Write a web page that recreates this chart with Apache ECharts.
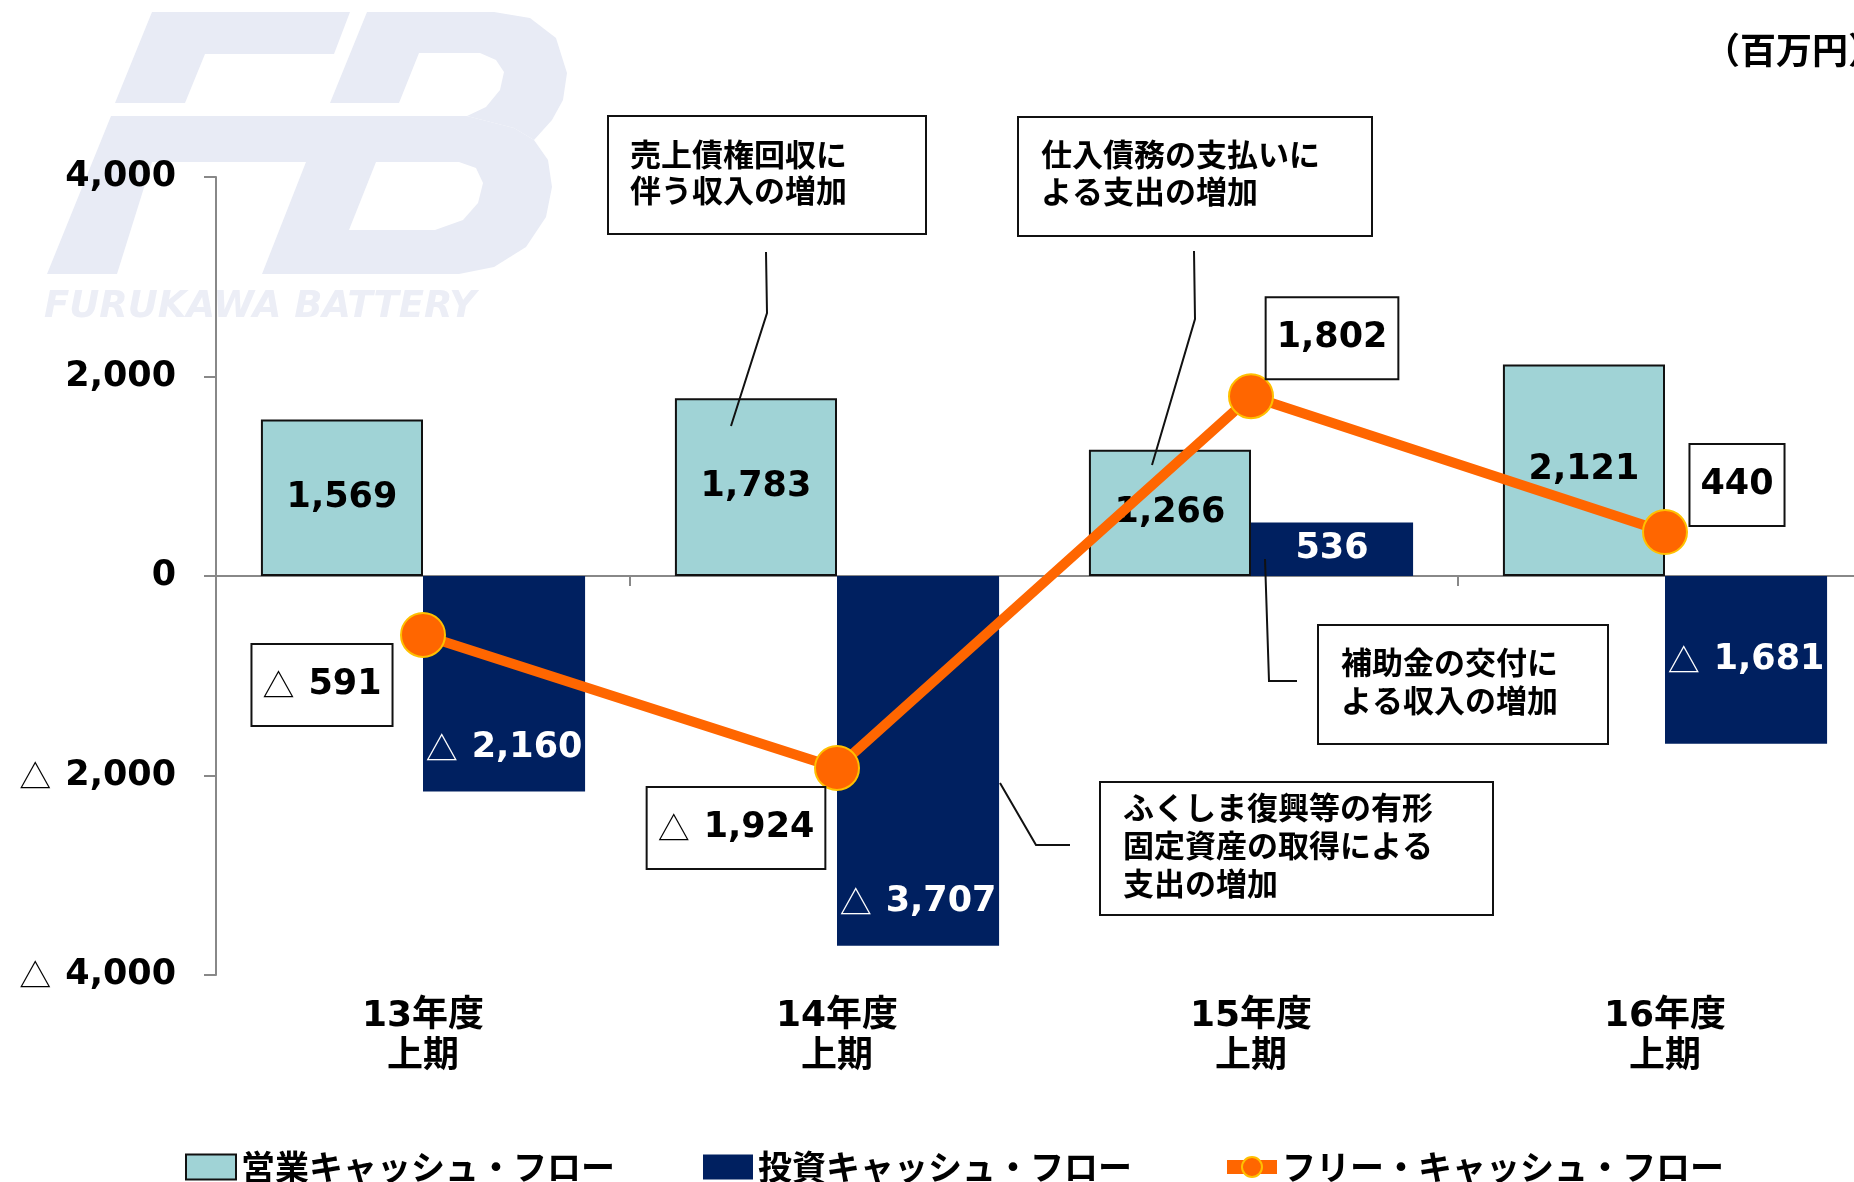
<!DOCTYPE html>
<html>
<head>
<meta charset="utf-8">
<script src="https://cdn.jsdelivr.net/npm/echarts@6/dist/echarts.min.js"></script>
<style>
  html, body { margin: 0; padding: 0; background: #fff; }
  #chart { width: 1854px; height: 1182px; }
</style>
</head>
<body>
<div id="chart"></div>
<script>
// 上期キャッシュ・フロー推移（百万円）
const periods = ['13年度\n上期', '14年度\n上期', '15年度\n上期', '16年度\n上期']
const operatingCF = [1569, 1783, 1266, 2121]
const investingCF = [-2160, -3707, 536, -1681]
const freeCF = [-591, -1924, 1802, 440]
const seriesNames = ['営業キャッシュ・フロー', '投資キャッシュ・フロー', 'フリー・キャッシュ・フロー']
const yMin = -4000
const yMax = 4000
const yStep = 2000

// ラベル配置（レイアウト用）
const investLabelPos = ['insideBottom', 'insideBottom', 'inside', 'inside']
const freeLabelOffset = [[-101, 50], [-101, 60], [81, -58], [72, -47]]

const NUM_FONT = '"DejaVu Sans", "Noto Sans CJK JP", sans-serif'
const JP_FONT = '"Noto Sans CJK JP", sans-serif'

// 3桁区切り
function comma(n) {
  return String(n).replace(/\B(?=(\d{3})+(?!\d))/g, ',')
}

// マイナスは△表記
function fmtValue(v) {
  if (v < 0) return '{t|△}{n|' + comma(-v) + '}'
  return '{n|' + comma(v) + '}'
}

function richFor(color) {
  return {
    t: { fontFamily: JP_FONT, fontWeight: 'normal', fontSize: 32, color: color, lineHeight: 40, padding: [0, 14, 0, 0] },
    n: { fontFamily: NUM_FONT, fontWeight: 'bold', fontSize: 35, color: color, lineHeight: 40 }
  }
}

const chart = echarts.init(document.getElementById('chart'), null, { renderer: 'canvas' })

const option = {
  animation: false,
  backgroundColor: '#ffffff',
  grid: { left: 216, top: 177, width: 1656, height: 798, outerBoundsMode: 'none', containLabel: false },
  legend: {
    left: 180,
    top: 1145,
    itemWidth: 50,
    itemHeight: 25,
    itemGap: 88,
    data: [
      { name: seriesNames[0], icon: 'rect' },
      { name: seriesNames[1], icon: 'rect' },
      { name: seriesNames[2], lineStyle: { width: 14 } }
    ],
    textStyle: { fontFamily: JP_FONT, fontWeight: 'bold', fontSize: 34, color: '#000' }
  },
  xAxis: [
    {
      // ゼロ位置の軸線と目盛
      type: 'category',
      data: periods,
      axisLine: { onZero: true, lineStyle: { color: '#888', width: 2 } },
      axisTick: { show: true, length: 10, lineStyle: { color: '#888', width: 2 } },
      axisLabel: { show: false }
    },
    {
      // 下端の年度ラベル
      type: 'category',
      data: periods,
      position: 'bottom',
      axisLine: { show: false, onZero: false },
      axisTick: { show: false },
      axisLabel: {
        margin: 21,
        color: '#000',
        fontFamily: NUM_FONT,
        fontWeight: 'bold',
        fontSize: 36,
        lineHeight: 41
      }
    }
  ],
  yAxis: {
    type: 'value',
    min: yMin,
    max: yMax,
    interval: yStep,
    splitLine: { show: false },
    axisLine: { show: true, lineStyle: { color: '#888', width: 2 } },
    axisTick: { show: true, length: 12, lineStyle: { color: '#888', width: 2 } },
    axisLabel: {
      margin: 40,
      formatter: function (v) { return fmtValue(v) },
      rich: richFor('#000')
    }
  },
  series: [
    {
      name: seriesNames[0],
      type: 'bar',
      data: operatingCF,
      barGap: '0%',
      barCategoryGap: '21.7%',
      itemStyle: { color: '#a0d3d6', borderColor: '#111', borderWidth: 2 },
      label: {
        show: true,
        position: 'inside',
        formatter: function (p) { return fmtValue(p.value) },
        rich: richFor('#000')
      }
    },
    {
      name: seriesNames[1],
      type: 'bar',
      data: investingCF.map(function (v, i) {
        return { value: v, label: { position: investLabelPos[i], distance: 24 } }
      }),
      itemStyle: { color: '#002060' },
      label: {
        show: true,
        position: 'inside',
        formatter: function (p) { return fmtValue(p.value) },
        rich: richFor('#fff')
      }
    },
    {
      name: seriesNames[2],
      type: 'line',
      data: freeCF.map(function (v, i) {
        return { value: v, label: { offset: freeLabelOffset[i] } }
      }),
      z: 5,
      symbol: 'circle',
      symbolSize: 44,
      lineStyle: { color: '#ff6600', width: 10 },
      itemStyle: { color: '#ff6600', borderColor: '#ffc000', borderWidth: 2 },
      label: {
        show: true,
        position: 'inside',
        backgroundColor: '#fff',
        borderColor: '#111',
        borderWidth: 2,
        padding: [20, 10],
        formatter: function (p) { return fmtValue(p.value) },
        rich: richFor('#000')
      }
    }
  ],
  graphic: [
    // 透かしロゴ
    {
      type: 'polygon', z: -2, silent: true,
      shape: { points: [[152, 12], [350, 12], [334, 54], [205, 54], [185, 103], [115, 103]] },
      style: { fill: '#e8ebf5' }
    },
    {
      type: 'polygon', z: -2, silent: true,
      shape: { points: [[367, 12], [494, 12], [530, 18], [556, 38], [567, 73], [563, 100], [552, 120], [534, 140],
        [514, 128], [467, 116], [486, 107], [500, 90], [504, 72], [496, 60], [480, 53], [419, 53], [399, 103], [330, 103]] },
      style: { fill: '#e8ebf5' }
    },
    {
      type: 'polygon', z: -2, silent: true,
      shape: { points: [[111, 116], [467, 116], [514, 128], [534, 140], [548, 160], [552, 187], [546, 217], [526, 247],
        [494, 267], [459, 274], [262, 274], [306, 162], [152, 162], [117, 274], [47, 274]] },
      style: { fill: '#e8ebf5' }
    },
    {
      type: 'polygon', z: -1, silent: true,
      shape: { points: [[376, 162], [459, 162], [476, 168], [483, 183], [478, 203], [463, 220], [435, 230], [349, 230]] },
      style: { fill: '#fff' }
    },
    {
      type: 'text', z: -2, silent: true, left: 44, top: 289,
      style: { text: 'FURUKAWA BATTERY', font: 'italic bold 37px "DejaVu Sans"', fill: '#eceef6' }
    },
    // 単位
    {
      type: 'text', x: 1704, y: 50,
      style: { text: '（百万円）', font: 'bold 36px "Noto Sans CJK JP"', fill: '#000', verticalAlign: 'middle' }
    },
    // 注記
    { type: 'rect', z: 50, shape: { x: 608, y: 116, width: 318, height: 118 }, style: { fill: '#fff', stroke: '#111', lineWidth: 2 } },
    { type: 'text', z: 51, x: 630, y: 172, style: { text: '売上債権回収に\n伴う収入の増加', font: 'bold 31px "Noto Sans CJK JP"', fill: '#000', lineHeight: 36, verticalAlign: 'middle' } },
    { type: 'polyline', z: 50, shape: { points: [[766, 252], [767, 313], [731, 426]] }, style: { stroke: '#111', lineWidth: 2, fill: null } },

    { type: 'rect', z: 50, shape: { x: 1018, y: 117, width: 354, height: 119 }, style: { fill: '#fff', stroke: '#111', lineWidth: 2 } },
    { type: 'text', z: 51, x: 1041, y: 173, style: { text: '仕入債務の支払いに\nよる支出の増加', font: 'bold 31px "Noto Sans CJK JP"', fill: '#000', lineHeight: 37, verticalAlign: 'middle' } },
    { type: 'polyline', z: 50, shape: { points: [[1194, 251], [1195, 319], [1152, 465]] }, style: { stroke: '#111', lineWidth: 2, fill: null } },

    { type: 'rect', z: 50, shape: { x: 1318, y: 625, width: 290, height: 119 }, style: { fill: '#fff', stroke: '#111', lineWidth: 2 } },
    { type: 'text', z: 51, x: 1341, y: 681, style: { text: '補助金の交付に\nよる収入の増加', font: 'bold 31px "Noto Sans CJK JP"', fill: '#000', lineHeight: 38, verticalAlign: 'middle' } },
    { type: 'polyline', z: 50, shape: { points: [[1265, 559], [1269, 681], [1297, 681]] }, style: { stroke: '#111', lineWidth: 2, fill: null } },

    { type: 'rect', z: 50, shape: { x: 1100, y: 782, width: 393, height: 133 }, style: { fill: '#fff', stroke: '#111', lineWidth: 2 } },
    { type: 'text', z: 51, x: 1123, y: 845, style: { text: 'ふくしま復興等の有形\n固定資産の取得による\n支出の増加', font: 'bold 31px "Noto Sans CJK JP"', fill: '#000', lineHeight: 38, verticalAlign: 'middle' } },
    { type: 'polyline', z: 50, shape: { points: [[1000, 783], [1036, 845], [1070, 845]] }, style: { stroke: '#111', lineWidth: 2, fill: null } }
  ]
}

chart.setOption(option)
</script>
</body>
</html>
